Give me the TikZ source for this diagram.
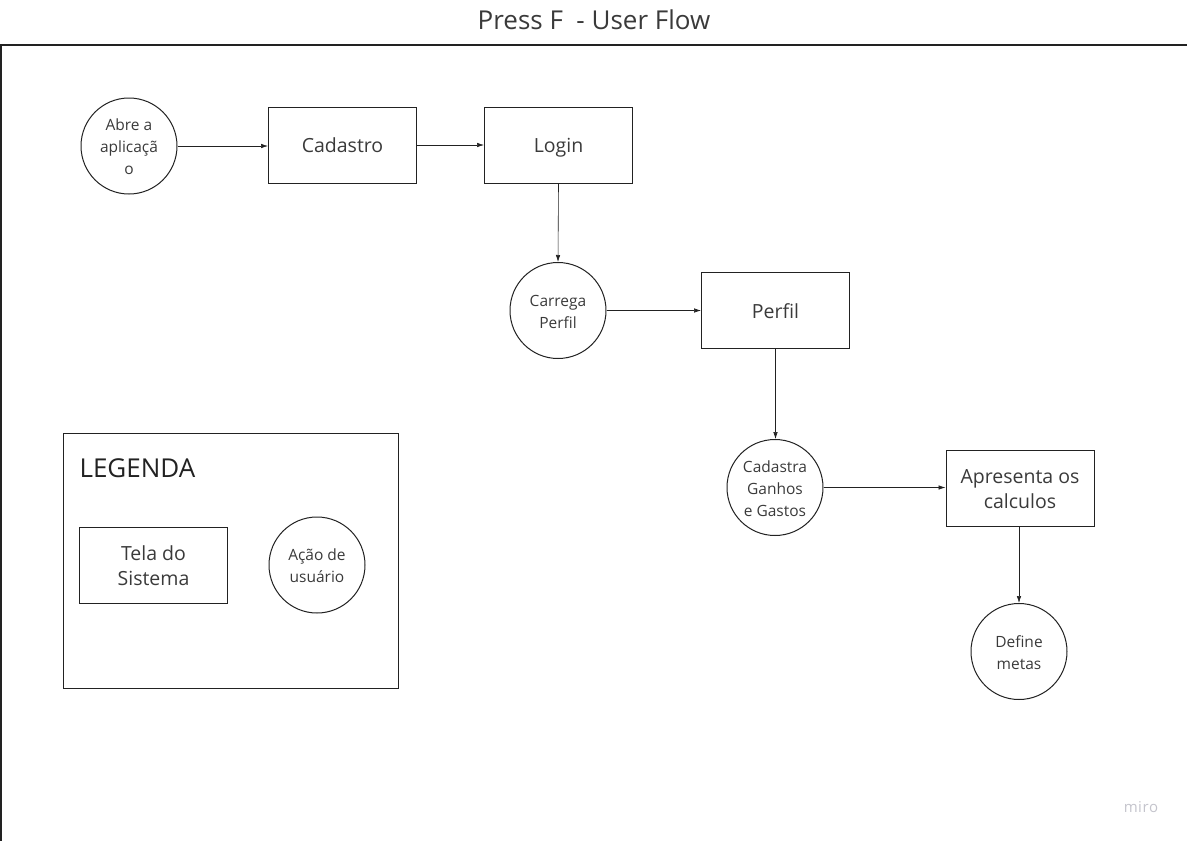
\documentclass[tikz,border=0pt]{standalone}
\usepackage{fontspec}
\setmainfont{Open Sans}
\usetikzlibrary{arrows.meta}
\definecolor{ink}{HTML}{222222}
\definecolor{txt}{HTML}{3A3A3A}
\definecolor{wm}{HTML}{C4C4CC}
\newcommand{\topup}[1]{\rule{0pt}{#1}}
\tikzset{
  screen/.style={draw=ink, line width=1pt, minimum width=148pt, minimum height=76pt, inner sep=0pt,
    align=center, text=txt, font=\fontsize{19.5}{25.5}\selectfont},
  action/.style={draw=ink, line width=1pt, circle, minimum size=96pt, inner sep=0pt,
    align=center, text=txt, font=\fontsize{15.5}{22}\selectfont},
  flow/.style={draw=ink, line width=0.6pt, -{Latex[length=7pt,width=4.5pt]}},
  frameline/.style={draw=ink, line width=1.1pt}
}
\begin{document}
\begin{tikzpicture}[x=1pt,y=-1pt]
\useasboundingbox (0,0) rectangle (1187,841);
% title
\node[text=txt, font=\fontsize{26}{30}\selectfont] (title) at (594,20) {Press F \ - User Flow};
% frame
\coordinate (ftl) at (1,45);
\coordinate (ftr) at (1190,45);
\coordinate (fbl) at (1,845);
\draw[frameline] (ftr) -- (ftl) -- (fbl);
% flow nodes
\node[action] (abre) at (129,146) {\topup{20pt}Abre a\\aplicaçã\\o\strut};
\node[screen] (cad) at (342.5,145) {\topup{23.5pt}Cadastro\strut};
\node[screen] (login) at (558.5,145) {\topup{23.5pt}Login\strut};
\node[action] (carrega) at (558,310.5) {\topup{20pt}Carrega\\Perfil\strut};
\node[screen] (perfil) at (775.5,310.5) {\topup{23.5pt}Perfil\strut};
\node[action] (ganhos) at (775,487.5) {\topup{20pt}Cadastra\\Ganhos\\e Gastos\strut};
\node[screen] (apres) at (1020,488) {\topup{23.5pt}Apresenta os\\calculos\strut};
\node[action] (metas) at (1019,651.5) {\topup{20pt}Define\\metas\strut};
% connectors
\draw[flow] (abre.east) -- (abre.east -| cad.west);
\draw[flow] (cad.east) -- (cad.east -| login.west);
\draw[flow] (login.south) -- (carrega.north);
\draw[flow] (carrega.east) -- (carrega.east -| perfil.west);
\draw[flow] (perfil.south) -- (perfil.south |- ganhos.north);
\draw[flow] (ganhos.east) -- (ganhos.east -| apres.west);
\draw[flow] (apres.south -| metas.north) -- (metas.north);
% legend
\node[draw=ink, line width=1pt, minimum width=335pt, minimum height=255pt, inner sep=0pt] (legend) at (230.5,560.5) {};
\node[anchor=west, text=ink, font=\fontsize{26}{30}\selectfont] (legtitle) at (76,468) {LEGENDA};
\node[screen] (tela) at (153.5,565) {\topup{23.5pt}Tela do\\Sistema\strut};
\node[action] (acao) at (317,565) {\topup{20pt}Ação de\\usuário\strut};
% watermark
\node[text=wm, font=\fontsize{15}{17}\selectfont] (miro) at (1141,807) {m\kern0.5pt i\kern0.5pt r\kern0.5pt o};
\end{tikzpicture}
\end{document}
